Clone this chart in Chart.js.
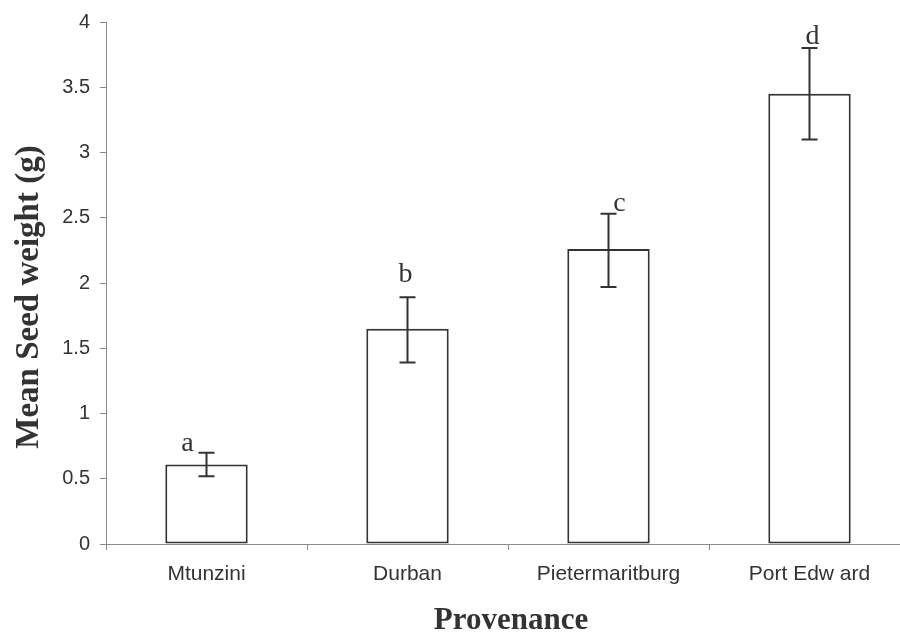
<!DOCTYPE html>
<html>
<head>
<meta charset="utf-8">
<script src="https://cdn.jsdelivr.net/npm/chart.js@4.4.0/dist/chart.umd.min.js"></script>
<style>
    body { margin: 0; overflow: hidden; background: #fff; }
</style>
</head>
<body>
<canvas id="seed-chart" width="920" height="633"></canvas>
<script>
const provenances = ["Mtunzini", "Durban", "Pietermaritburg", "Port Edw ard"];
const meanWeight = [0.61, 1.65, 2.26, 3.45];
const errLow = [0.52, 1.39, 1.97, 3.10];
const errHigh = [0.70, 1.89, 2.53, 3.80];
const groupLetters = ["a", "b", "c", "d"];

const inkColor = "#333333";
const axisColor = "#8a8a8a";
const serif = "'Liberation Serif', 'Times New Roman', serif";
const sans = "'Liberation Sans', Arial, sans-serif";

// letters were hand placed in the original, nudge each one a bit
const letterNudge = [
    { dx: -19, dy: -2 },
    { dx: -2, dy: -15 },
    { dx: 11, dy: -3 },
    { dx: 3, dy: -4 },
];

const errorBarPlugin = {
    id: "errorBars",
    afterDatasetsDraw: function (chart) {
        const ctx = chart.ctx;
        const xScale = chart.scales.x;
        const yScale = chart.scales.y;
        ctx.save();
        ctx.strokeStyle = inkColor;
        ctx.lineWidth = 2;
        for (let i = 0; i < meanWeight.length; i++) {
            const x = xScale.getPixelForValue(i);
            const top = yScale.getPixelForValue(errHigh[i]);
            const bottom = yScale.getPixelForValue(errLow[i]);
            ctx.beginPath();
            ctx.moveTo(x, top);
            ctx.lineTo(x, bottom);
            ctx.moveTo(x - 8, top);
            ctx.lineTo(x + 8, top);
            ctx.moveTo(x - 8, bottom);
            ctx.lineTo(x + 8, bottom);
            ctx.stroke();

            ctx.fillStyle = inkColor;
            ctx.font = "28px " + serif;
            ctx.textAlign = "center";
            ctx.textBaseline = "alphabetic";
            ctx.fillText(groupLetters[i], x + letterNudge[i].dx, top + letterNudge[i].dy);
        }

        // axis titles
        ctx.fillStyle = inkColor;
        ctx.textAlign = "center";
        ctx.font = "bold 31px " + serif;
        ctx.textBaseline = "alphabetic";
        ctx.fillText("Provenance", 511, 629);

        ctx.translate(29, 297);
        ctx.rotate(-Math.PI / 2);
        ctx.font = "bold 33px " + serif;
        ctx.textBaseline = "middle";
        ctx.fillText("Mean Seed weight (g)", 0, 0);
        ctx.restore();
    },
};

new Chart(document.getElementById("seed-chart"), {
    type: "bar",
    data: {
        labels: provenances,
        datasets: [
            {
                data: meanWeight,
                backgroundColor: "#ffffff",
                borderColor: inkColor,
                borderWidth: 2,
                borderSkipped: false,
                barPercentage: 0.41,
                categoryPercentage: 1,
            },
        ],
    },
    options: {
        responsive: false,
        animation: false,
        layout: {
            padding: { top: 20, right: 10, left: 0, bottom: 0 },
        },
        plugins: {
            legend: { display: false },
            tooltip: { enabled: false },
        },
        scales: {
            x: {
                offset: true,
                border: { display: true, color: axisColor, width: 1 },
                grid: {
                    offset: true,
                    drawOnChartArea: false,
                    drawTicks: true,
                    tickLength: 6,
                    color: axisColor,
                },
                ticks: {
                    color: inkColor,
                    font: { family: sans, size: 21 },
                    padding: 12,
                    maxRotation: 0,
                    autoSkip: false,
                },
                afterFit: function (scale) {
                    scale.height = 89;
                },
            },
            y: {
                min: 0,
                max: 4,
                border: { display: true, color: axisColor, width: 1 },
                grid: {
                    drawOnChartArea: false,
                    drawTicks: true,
                    tickLength: 6,
                    color: axisColor,
                },
                ticks: {
                    stepSize: 0.5,
                    color: inkColor,
                    font: { family: sans, size: 20 },
                    padding: 10,
                    callback: (value) => String(value),
                },
                afterFit: function (scale) {
                    scale.width = 106;
                },
            },
        },
    },
    plugins: [errorBarPlugin],
});
</script>
</body>
</html>
